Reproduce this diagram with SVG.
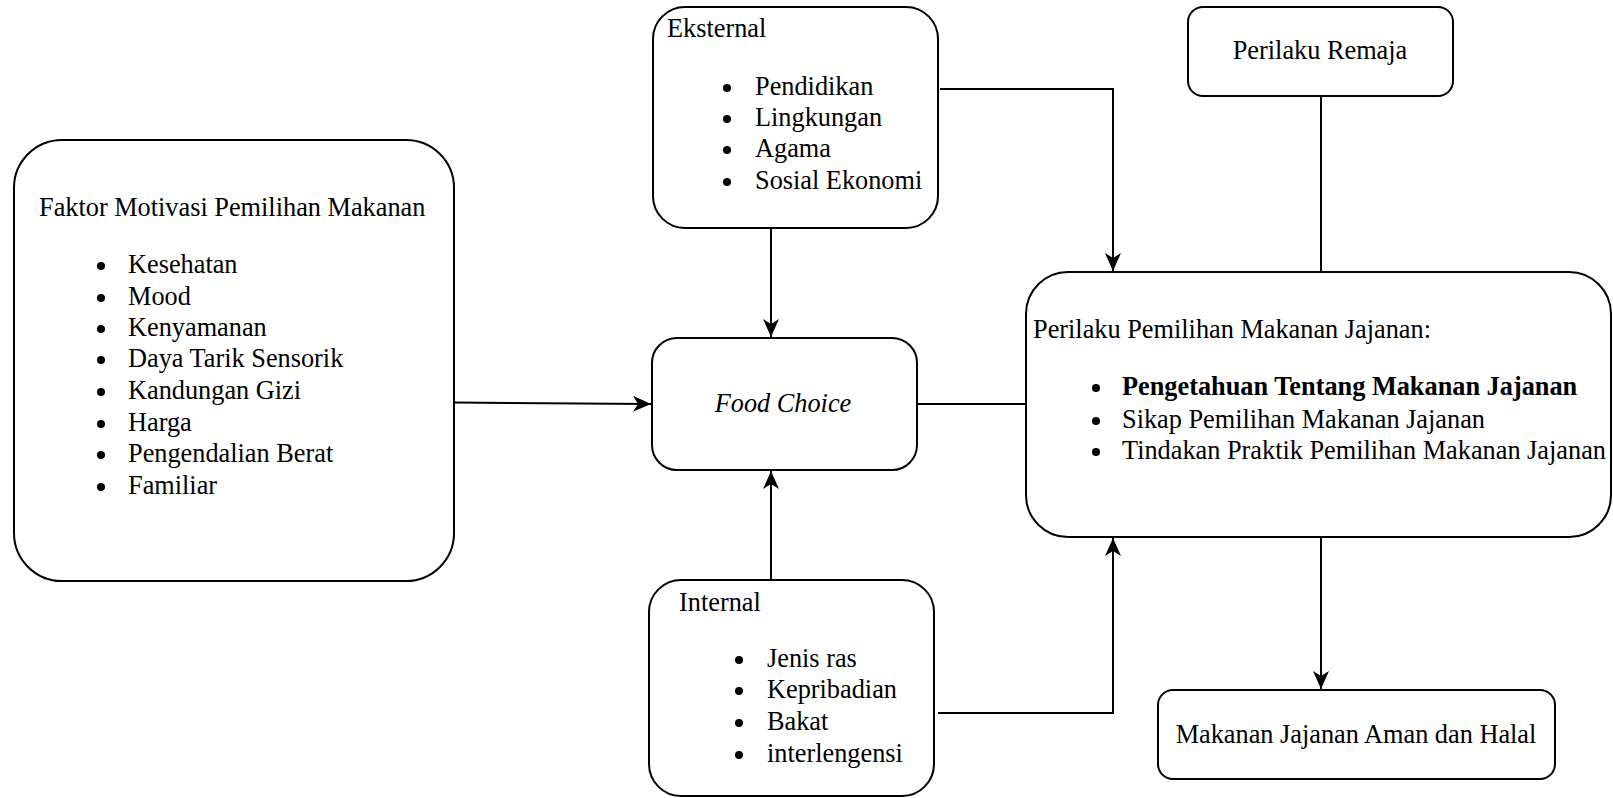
<svg xmlns="http://www.w3.org/2000/svg" width="1613" height="798" viewBox="0 0 1613 798">
<style>
.box{fill:#fff;stroke:#000;stroke-width:2}
.t{font-family:"Liberation Serif","Times New Roman",serif;font-size:26.3px;fill:#000}
.c{text-anchor:middle}
.ln{fill:none;stroke:#000;stroke-width:2}
.dot{fill:#000}
</style>
<defs>
<marker id="arr" markerUnits="userSpaceOnUse" markerWidth="24" markerHeight="24" viewBox="-20 -12 24 24" refX="0" refY="0" orient="auto">
<path d="M0,0 L-18,-8 L-13,0 L-18,8 Z" fill="#000"/>
</marker>
</defs>
<rect width="1613" height="798" fill="#fff"/>
<g id="connectors">
<path class="ln" d="M454,402.5 L651,404" marker-end="url(#arr)"/>
<path class="ln" d="M771,228 L771,337" marker-end="url(#arr)"/>
<path class="ln" d="M771,580 L771,471" marker-end="url(#arr)"/>
<path class="ln" d="M917,404 L1026,404"/>
<path class="ln" d="M940,89 L1113,89 L1113,271" marker-end="url(#arr)"/>
<path class="ln" d="M938,713 L1113,713 L1113,538" marker-end="url(#arr)"/>
<path class="ln" d="M1321,96 L1321,272"/>
<path class="ln" d="M1321,537 L1321,689" marker-end="url(#arr)"/>
</g>
<g id="faktor">
<rect class="box" x="14" y="140" width="440" height="441" rx="48"/>
<text class="t" x="39" y="216">Faktor Motivasi Pemilihan Makanan</text>
<circle class="dot" cx="101" cy="266" r="4"/><text class="t" x="128" y="273">Kesehatan</text>
<circle class="dot" cx="101" cy="298" r="4"/><text class="t" x="128" y="305">Mood</text>
<circle class="dot" cx="101" cy="329" r="4"/><text class="t" x="128" y="336">Kenyamanan</text>
<circle class="dot" cx="101" cy="360" r="4"/><text class="t" x="128" y="367">Daya Tarik Sensorik</text>
<circle class="dot" cx="101" cy="392" r="4"/><text class="t" x="128" y="399">Kandungan Gizi</text>
<circle class="dot" cx="101" cy="424" r="4"/><text class="t" x="128" y="431">Harga</text>
<circle class="dot" cx="101" cy="455" r="4"/><text class="t" x="128" y="462">Pengendalian Berat</text>
<circle class="dot" cx="101" cy="487" r="4"/><text class="t" x="128" y="494">Familiar</text>
</g>
<g id="eksternal">
<rect class="box" x="653" y="7" width="285" height="221" rx="32"/>
<text class="t" x="667" y="37">Eksternal</text>
<circle class="dot" cx="727" cy="88" r="4"/><text class="t" x="755" y="95">Pendidikan</text>
<circle class="dot" cx="727" cy="119" r="4"/><text class="t" x="755" y="126">Lingkungan</text>
<circle class="dot" cx="727" cy="150" r="4"/><text class="t" x="755" y="157">Agama</text>
<circle class="dot" cx="727" cy="182" r="4"/><text class="t" x="755" y="189">Sosial Ekonomi</text>
</g>
<g id="foodchoice">
<rect class="box" x="652" y="338" width="265" height="132" rx="25"/>
<text class="t c" x="783" y="412" font-style="italic">Food Choice</text>
</g>
<g id="internal">
<rect class="box" x="649" y="580" width="285" height="216" rx="32"/>
<text class="t" x="679" y="611">Internal</text>
<circle class="dot" cx="739" cy="660" r="4"/><text class="t" x="767" y="667">Jenis ras</text>
<circle class="dot" cx="739" cy="691" r="4"/><text class="t" x="767" y="698">Kepribadian</text>
<circle class="dot" cx="739" cy="723" r="4"/><text class="t" x="767" y="730">Bakat</text>
<circle class="dot" cx="739" cy="755" r="4"/><text class="t" x="767" y="762">interlengensi</text>
</g>
<g id="perilakupemilihan">
<rect class="box" x="1026" y="272" width="585" height="265" rx="42"/>
<text class="t" x="1033" y="338">Perilaku Pemilihan Makanan Jajanan:</text>
<circle class="dot" cx="1096" cy="388" r="4"/><text class="t" x="1122" y="395" font-weight="bold">Pengetahuan Tentang Makanan Jajanan</text>
<circle class="dot" cx="1096" cy="421" r="4"/><text class="t" x="1122" y="428">Sikap Pemilihan Makanan Jajanan</text>
<circle class="dot" cx="1096" cy="452" r="4"/><text class="t" x="1122" y="459">Tindakan Praktik Pemilihan Makanan Jajanan</text>
</g>
<g id="perilakuremaja">
<rect class="box" x="1188" y="7" width="265" height="89" rx="15"/>
<text class="t c" x="1320" y="59">Perilaku Remaja</text>
</g>
<g id="makanan">
<rect class="box" x="1158" y="690" width="397" height="89" rx="15"/>
<text class="t c" x="1356" y="743">Makanan Jajanan Aman dan Halal</text>
</g>
</svg>
